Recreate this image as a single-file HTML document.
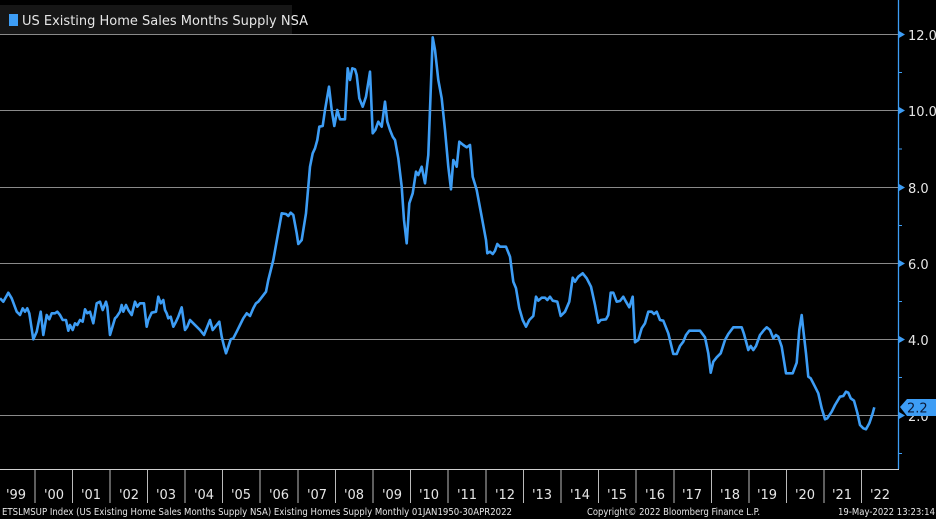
<!DOCTYPE html>
<html><head><meta charset="utf-8"><style>
html,body{margin:0;padding:0;background:#000;}
svg{display:block;}
text{font-family:"DejaVu Sans","Liberation Sans",sans-serif;}
</style></head><body>
<svg width="936" height="519" viewBox="0 0 936 519" xmlns="http://www.w3.org/2000/svg">
<rect width="936" height="519" fill="#000"/>
<rect x="0" y="5" width="292" height="29" fill="#161616"/>
<rect x="9" y="14" width="9" height="12" fill="#3d9df5"/>
<text x="22" y="25" fill="#e6e6e6" font-size="13">US Existing Home Sales Months Supply NSA</text>
<g stroke="#8a8a8a" stroke-width="1">
<line x1="0" y1="34.5" x2="898" y2="34.5"/>
<line x1="0" y1="110.5" x2="898" y2="110.5"/>
<line x1="0" y1="187.5" x2="898" y2="187.5"/>
<line x1="0" y1="263.5" x2="898" y2="263.5"/>
<line x1="0" y1="339.5" x2="898" y2="339.5"/>
<line x1="0" y1="415.5" x2="898" y2="415.5"/>
</g>
<line x1="898.5" y1="0" x2="898.5" y2="469" stroke="#3d9df5" stroke-width="1.3"/>
<g fill="#3d9df5">
<polygon points="899,31 905,34.5 899,38"/><polygon points="899,107 905,110.5 899,114"/>
<polygon points="899,184 905,187.5 899,191"/><polygon points="899,260 905,263.5 899,267"/>
<polygon points="899,336 905,339.5 899,343"/><polygon points="899,412 905,415.5 899,419"/>
</g>
<g stroke="#3d9df5" stroke-width="1"><line x1="898" y1="72.5" x2="902" y2="72.5"/><line x1="898" y1="149" x2="902" y2="149"/><line x1="898" y1="225.5" x2="902" y2="225.5"/><line x1="898" y1="301.5" x2="902" y2="301.5"/><line x1="898" y1="377.5" x2="902" y2="377.5"/><line x1="898" y1="453.5" x2="902" y2="453.5"/></g>
<g fill="#e6e6e6" font-size="13">
<text x="908" y="40">12.0</text><text x="908" y="116">10.0</text><text x="908" y="193">8.0</text>
<text x="908" y="269">6.0</text><text x="908" y="345">4.0</text><text x="908" y="421">2.0</text>
</g>
<polygon points="900,407 907,399 936,399 936,416 907,416" fill="#3d9df5"/>
<text x="907" y="412.5" fill="#0a1a3a" font-size="13">2.2</text>
<line x1="0" y1="469.5" x2="899" y2="469.5" stroke="#d0d0d0" stroke-width="1"/>
<g stroke="#bbb" stroke-width="1">
<line x1="35" y1="470" x2="35" y2="503"/><line x1="72.5" y1="470" x2="72.5" y2="503"/><line x1="110" y1="470" x2="110" y2="503"/><line x1="147.5" y1="470" x2="147.5" y2="503"/><line x1="185" y1="470" x2="185" y2="503"/><line x1="222.5" y1="470" x2="222.5" y2="503"/><line x1="260" y1="470" x2="260" y2="503"/><line x1="298" y1="470" x2="298" y2="503"/><line x1="335.5" y1="470" x2="335.5" y2="503"/><line x1="373" y1="470" x2="373" y2="503"/><line x1="410.5" y1="470" x2="410.5" y2="503"/><line x1="448" y1="470" x2="448" y2="503"/><line x1="486" y1="470" x2="486" y2="503"/><line x1="523.5" y1="470" x2="523.5" y2="503"/><line x1="561" y1="470" x2="561" y2="503"/><line x1="598.5" y1="470" x2="598.5" y2="503"/><line x1="636" y1="470" x2="636" y2="503"/><line x1="674" y1="470" x2="674" y2="503"/><line x1="711.5" y1="470" x2="711.5" y2="503"/><line x1="749" y1="470" x2="749" y2="503"/><line x1="786.5" y1="470" x2="786.5" y2="503"/><line x1="824" y1="470" x2="824" y2="503"/><line x1="861.5" y1="470" x2="861.5" y2="503"/>
</g>
<g fill="#e6e6e6" font-size="13" text-anchor="middle">
<text x="16" y="499">'99</text><text x="54" y="499">'00</text><text x="91" y="499">'01</text><text x="129" y="499">'02</text><text x="166" y="499">'03</text><text x="204" y="499">'04</text><text x="241" y="499">'05</text><text x="279" y="499">'06</text><text x="317" y="499">'07</text><text x="354" y="499">'08</text><text x="392" y="499">'09</text><text x="429" y="499">'10</text><text x="467" y="499">'11</text><text x="505" y="499">'12</text><text x="542" y="499">'13</text><text x="580" y="499">'14</text><text x="617" y="499">'15</text><text x="655" y="499">'16</text><text x="692" y="499">'17</text><text x="730" y="499">'18</text><text x="767" y="499">'19</text><text x="805" y="499">'20</text><text x="842" y="499">'21</text><text x="880" y="499">'22</text>
</g>
<g fill="#e6e6e6" font-size="9.5">
<text x="2" y="515" textLength="510" lengthAdjust="spacingAndGlyphs">ETSLMSUP Index (US Existing Home Sales Months Supply NSA) Existing Homes Supply  Monthly 01JAN1950-30APR2022</text>
<text x="587" y="515" textLength="173" lengthAdjust="spacingAndGlyphs">Copyright© 2022 Bloomberg Finance L.P.</text>
<text x="838" y="515" textLength="97" lengthAdjust="spacingAndGlyphs">19-May-2022 13:23:14</text>
</g>
<polyline fill="none" stroke="#3d9df5" stroke-width="2.6" stroke-linejoin="round" points="0,298.3 3.3,301.7 8.3,292.7 11.7,298.3 16.7,311.7 20,315 22.7,308.3 25,311.7 27.3,308.3 29.3,313.3 33.3,339.3 36.7,331.7 40.7,311.7 43.3,335 46.7,315 49.3,319.3 51.7,313.3 55,313.3 57.3,311.7 60,315 62.7,320 66,320 68.3,330.7 70,325 72.7,330 75,323.3 77.3,325 80,320 82.7,321.7 85,309.3 87.3,313.3 90,311.7 93.3,323.3 96.7,303.3 100,301.7 102.7,310 106,301.7 107.3,306.7 110,335 115,318.3 116.7,316.7 120,311.7 121.7,305 123.3,311.7 126,305 128.3,310 131.7,315 135,301.7 137.3,306.7 140,303.3 144,303.3 146.7,326.7 148.3,320 151.7,312.7 156,311.7 158.3,296.7 160.7,303.3 163.3,300 165,310 166.7,313.3 168.3,318.3 170.7,316.7 173.3,326.7 176,321.7 178.3,316.7 181.7,307.3 183.3,318.3 185,330 187.3,326.7 190,320 193.3,323.3 196.7,326.7 200,330 204,335 207.3,326.7 210,320 212.7,330 216.7,325 219.3,321.7 221.7,336.7 224,346 226,353.3 228.3,346.7 230.7,339.3 233.3,338.3 236.7,331.7 240,325 243.3,318.3 246.7,313.3 250,316 253.3,308.3 256,303.3 258.3,301.7 261.7,297.3 266,291.7 268.3,280 273.3,260 281.7,213.3 286,214 288.3,216 290.7,212.7 293.3,215 296.7,233.3 298.3,244 301.7,240 306,213.3 308.3,186.7 310,166.7 312.7,153.3 315,148.3 317.3,140 319.3,126.7 322.7,126 325,110 329,86.7 331.7,110 334.3,126 337.3,110 340,119.3 345,119.3 347.7,68.3 350,80 352.3,68.3 355,69.3 356.7,75 359.3,98.3 362.7,106.7 366,96.7 370,71.7 372.7,133.3 375.3,130 378.3,121.7 381.7,126.7 385,101.7 387.3,121.7 390,130 392.7,136.7 395,140 398.3,158.3 401.7,186.7 404,220 406.7,243.3 409.3,203.3 412.7,193.3 416,171.7 418.3,175 421.7,166.7 425,183.3 428.3,155 432.7,37.3 435,50 438.3,80 441.7,98.3 445,130 448.3,166.7 451,189.3 453.3,160 455,162.7 456.7,166.7 459.3,141.7 463.3,145 466.7,147.3 470,145 472.7,176.7 476.7,190 481.7,216.7 486,240 487.3,253.3 490,251.7 492.7,254 495,250.7 497.3,244 500,246.7 506,246.7 510,256.7 513.3,281.7 516,288.3 519.3,308.3 522.7,320 526,326.7 529.3,320 533.3,316 536,296.7 538.3,300.7 541.7,297.7 545,297.7 547.3,300 550,296.7 552.7,300.7 557.3,301.7 560.7,316 565,311.7 569.3,301.7 572.7,277.7 575,281.7 578.3,276.7 582.7,273.3 586.7,278.3 591,286.7 595,305 598.3,322.7 600.7,320 606,319.3 608.3,315 610.7,292.7 613.3,292.7 616.7,301.7 620,301 623.3,296.7 626,301.7 629.3,307.3 632.7,296.7 635,342.3 638.3,340 641.7,328.3 645,323.3 648.3,311.7 651.7,311.7 654,314 656.7,311.7 660,320 663.3,320.7 668.3,333.3 673.3,354 676.7,354 680,346 683.3,341.7 686,335 689.3,330.7 700,330.7 705,337.3 708.3,353.3 710.7,372.7 713.3,361.7 716.7,357.3 720.7,353.3 725,340 728.3,334 733.3,327.3 741.7,327.3 744,334 748.3,350 750.7,346 753.3,350 756,346 760,335 764,330 766.7,327.3 770,330 773.3,338.3 776,335 778.3,336.7 781.7,346.7 786,373.3 792.7,373.3 796.7,362.7 799.3,330 801.7,315 803.3,330 806,353.3 808.3,376.7 810.7,378.3 815,386.7 818.3,393.3 821.7,408.3 825,419.3 827.3,418.3 831.7,411.7 835,405 840,396.7 843.3,396 846,391.7 848.3,392.7 850.7,398.3 854,400.7 857.3,412.7 860,425 863.3,428.3 866,429.3 869.3,423.3 872.7,413.3 874.3,407.3"/>
</svg>
</body></html>
